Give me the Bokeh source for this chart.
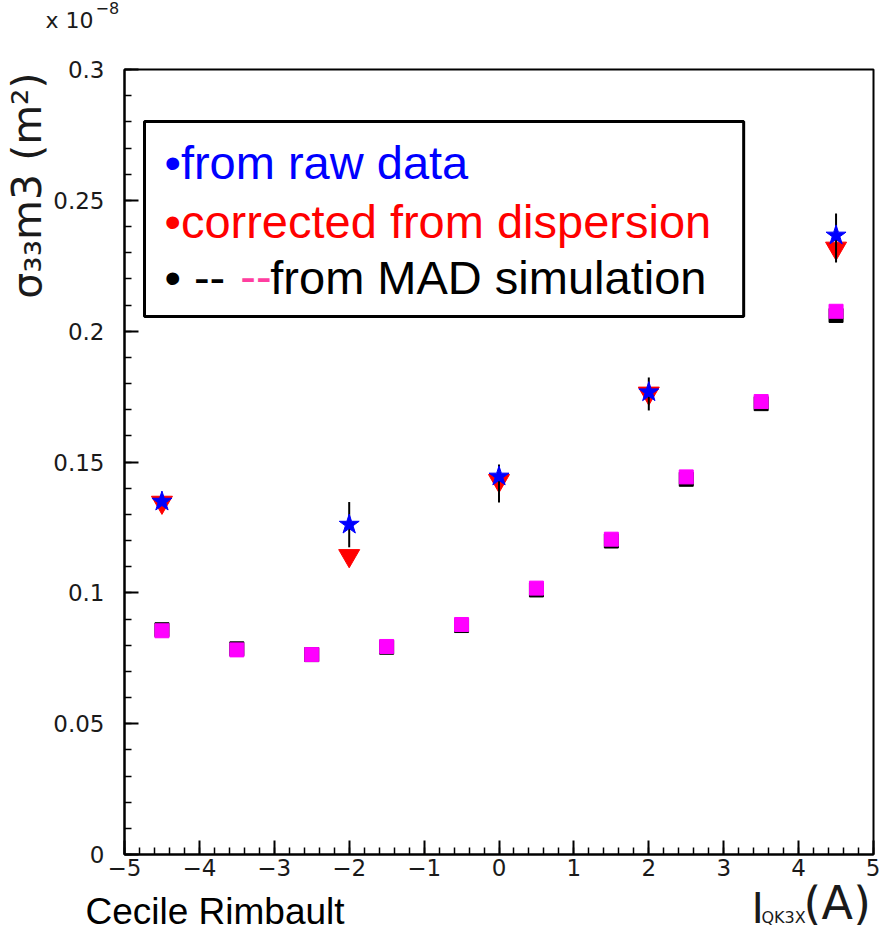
from bokeh.plotting import figure
from bokeh.layouts import column
from bokeh.models import Range1d, FixedTicker, CustomJSTickFormatter, Label, BoxAnnotation, Title
from bokeh.core.properties import value
from bokeh.embed import file_html
from bokeh.resources import INLINE

# ---------------- data (units of 1e-8 m^2) ----------------
raw_x = [-4.5, -2.0, 0.0, 2.0, 4.5]
raw_y = [0.1349, 0.1261, 0.1445, 0.1767, 0.2366]
raw_lo = [0.1338, 0.1174, 0.1345, 0.1697, 0.2262]
raw_hi = [0.1360, 0.1347, 0.1490, 0.1823, 0.2450]

corr_x = [-4.5, -2.0, 0.0, 2.0, 4.5]
corr_y = [0.1346, 0.1142, 0.1429, 0.1763, 0.2317]

mad_x = [-4.5, -3.5, -2.5, -1.5, -0.5, 0.5, 1.5, 2.5, 3.5, 4.5]
mad_black_y = [0.0859, 0.0786, 0.0764, 0.0792, 0.0875, 0.1011, 0.1198, 0.1434, 0.1723, 0.2060]
mad_pink_y = [0.0855, 0.0782, 0.0764, 0.0795, 0.0879, 0.1018, 0.1205, 0.1443, 0.1731, 0.2076]

x_ticks = [-5, -4, -3, -2, -1, 0, 1, 2, 3, 4, 5]
y_ticks = [0, 0.05, 0.1, 0.15, 0.2, 0.25, 0.3]

# ---------------- layout (page px) ----------------
W = 880
H_HEAD, H_MAIN, H_FOOT = 40, 844, 41
FL, FT = 123, 69          # frame left / top
FR, FB = 873, 854         # frame right / bottom
FW, FH = FR - FL, FB - FT
X0, X1, Y0, Y1 = -5.0, 5.0, 0.0, 0.3
BASE_SHIFT = 0.35         # em offset of the rendered baseline below the anchor

def dx(px):
    return X0 + (px - FL) / FW * (X1 - X0)

def dy(py):
    return Y0 + (FB - py) / FH * (Y1 - Y0)

THIN = "DejaVu Sans"
TXT = "#1a1a1a"

def strip(h):
    s = figure(width=W, height=h, x_range=Range1d(0, W), y_range=Range1d(h, 0),
               output_backend="svg", toolbar_location=None, min_border=0,
               min_border_left=0, min_border_right=0, min_border_top=0, min_border_bottom=0,
               title=None, x_axis_type=None, y_axis_type=None, frame_align=False)
    s.grid.visible = False
    s.outline_line_color = None
    s.background_fill_color = "white"
    s.border_fill_color = "white"
    return s

def stext(s, top, px, baseline, text, size, font=THIN, color=TXT):
    py = baseline - BASE_SHIFT * size
    s.text(x=[px], y=[py - top], text=[text], text_font=value(font),
           text_font_size=f"{size}px", text_color=color,
           text_align="left", text_baseline="alphabetic")

# ---------------- header: multiplier ----------------
head = strip(H_HEAD)
stext(head, 0, 45, 28, "x 10", 22)
stext(head, 0, 95, 13, "\u22128", 16)

# ---------------- main plot ----------------
p = figure(width=W, height=H_MAIN, x_range=Range1d(X0, X1), y_range=Range1d(Y0, Y1),
           output_backend="svg", toolbar_location=None, title=None, frame_align=False,
           min_border_left=FL, min_border_right=W - FR,
           min_border_top=FT - H_HEAD, min_border_bottom=H_HEAD + H_MAIN - FB)
p.grid.visible = False
p.background_fill_color = "white"
p.border_fill_color = "white"
p.outline_line_color = "black"
p.outline_line_width = 2
p.outline_line_alpha = 1.0

xa = p.xaxis[0]
xa.ticker = FixedTicker(ticks=x_ticks, minor_ticks=[round(-5 + 0.2 * i, 1) for i in range(51)])
xa.formatter = CustomJSTickFormatter(code="return tick < 0 ? '\u2212' + String(-tick) : String(tick);")
ya = p.yaxis[0]
ya.ticker = FixedTicker(ticks=y_ticks, minor_ticks=[round(0.01 * i, 2) for i in range(31)])
ya.formatter = CustomJSTickFormatter(code="return String(+tick.toFixed(2));")

for ax in (xa, ya):
    ax.axis_line_width = 2
    ax.axis_line_color = "black"
    ax.major_tick_in = 14
    ax.major_tick_out = 0
    ax.minor_tick_in = 7
    ax.minor_tick_out = 0
    ax.major_tick_line_width = 2
    ax.minor_tick_line_width = 1.5
    ax.major_tick_line_color = "black"
    ax.minor_tick_line_color = "black"
    ax.major_label_text_font = THIN
    ax.major_label_text_font_size = "23px"
    ax.major_label_text_color = TXT
xa.major_label_standoff = 4
ya.major_label_standoff = 20

# y axis title at the top of the left side
p.add_layout(Title(text="\u03c3\u2083\u2083m3 (m\u00b2)", align="right", offset=3,
                   standoff=0, text_font=THIN, text_font_size="41px",
                   text_font_style="normal", text_color=TXT), "left")

# ---------------- marks ----------------
p.scatter(mad_x, mad_black_y, marker="square", size=14, fill_color="black", line_color="black")
p.scatter(mad_x, mad_pink_y, marker="square", size=14, fill_color="#ff00ff", line_color="#ff00ff")
p.scatter(corr_x, corr_y, marker="inverted_triangle", size=21, fill_color="#ff0000", line_color="#ff0000")
p.segment(x0=raw_x, y0=raw_lo, x1=raw_x, y1=raw_hi, line_color="black", line_width=2)
p.scatter(raw_x, raw_y, marker="star", size=21, fill_color="#0000ff", line_color="#0000ff")

# ---------------- legend box ----------------
p.add_layout(BoxAnnotation(left=dx(143), right=dx(743), top=dy(121), bottom=dy(316),
                           fill_color="white", fill_alpha=1.0,
                           line_color="black", line_width=3, line_alpha=1.0))

LEG_FONT = "Liberation Sans"
LEG_SIZE = 47
def lab(px, baseline, text, color="black"):
    py = baseline - BASE_SHIFT * LEG_SIZE
    p.add_layout(Label(x=dx(px), y=dy(py), text=text, text_color=color,
                       text_font=LEG_FONT, text_font_size=f"{LEG_SIZE}px",
                       text_align="left", text_baseline="alphabetic"))

lab(163, 178, "\u2022from raw data", "#0000ff")
lab(163, 237, "\u2022corrected from dispersion", "#ff0000")
lab(163, 293, "\u2022 --", "black")
lab(239, 293, "--", "#ff3ea0")
lab(269, 293, "from MAD simulation", "black")

# ---------------- footer: author and x axis title ----------------
foot = strip(H_FOOT)
top_f = H_HEAD + H_MAIN
stext(foot, top_f, 85, 924, "Cecile Rimbault", 37, "Liberation Sans", "black")
stext(foot, top_f, 751, 923, "I", 42)
stext(foot, top_f, 761, 923, "QK3X", 16)
stext(foot, top_f, 803, 919, "(A)", 46)

layout = column(head, p, foot, spacing=0)
open("out.html", "w").write(file_html(layout, INLINE))
